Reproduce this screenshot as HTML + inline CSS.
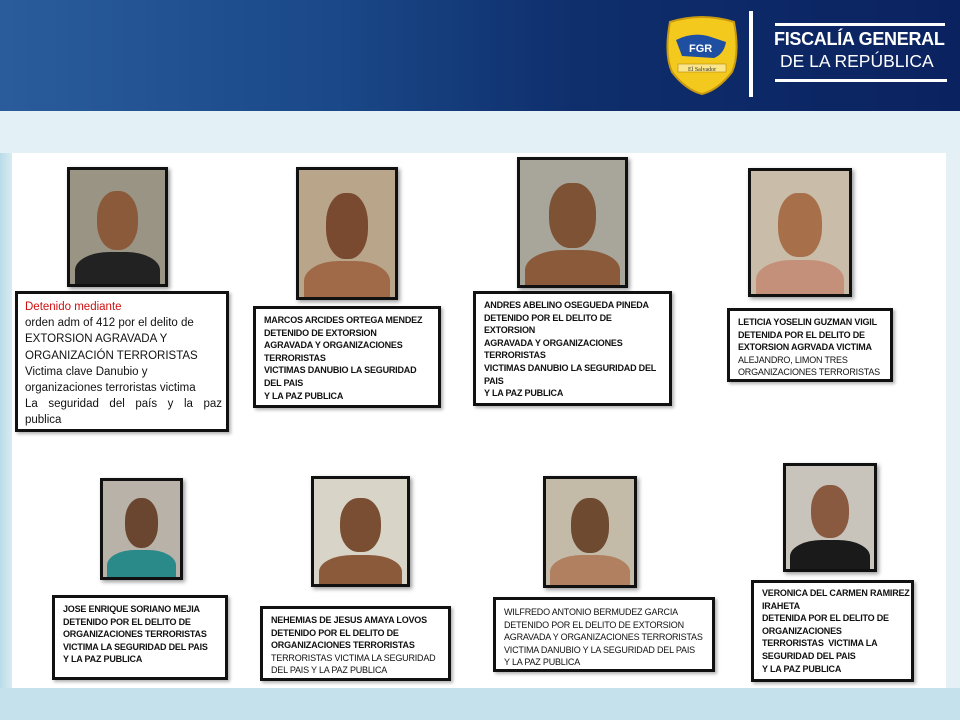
<!DOCTYPE html>
<html><head><meta charset="utf-8"><style>
*{margin:0;padding:0;box-sizing:border-box}
body{width:960px;height:720px;position:relative;overflow:hidden;background:#e4f0f5;font-family:"Liberation Sans",sans-serif}
.hdr{position:absolute;left:0;top:0;width:960px;height:111px;background:linear-gradient(90deg,#2a5c9c 0%,#1a4888 35%,#0f2e6c 60%,#0b2260 100%)}
.band{position:absolute;left:0;top:111px;width:960px;height:42px;background:#e3f0f5}
.left{position:absolute;left:0;top:153px;width:12px;height:540px;background:linear-gradient(90deg,#b9dce8,#d8ebf2)}
.panel{position:absolute;left:12px;top:153px;width:934px;height:535px;background:#fff}
.bot{position:absolute;left:0;top:688px;width:960px;height:32px;background:#c5e2ec}
.ph{position:absolute;border:3px solid #111;box-shadow:2px 2px 4px rgba(0,0,0,.4);overflow:hidden}
.ph .face{position:absolute;left:28%;top:18%;width:44%;height:52%;border-radius:45%;background:#8a5a3a}
.ph .body{position:absolute;left:5%;top:72%;width:90%;height:40%;border-radius:40% 40% 0 0;background:#9a6a48}
.tb{position:absolute;border:3px solid #111;background:#fff;box-shadow:2px 2px 3px rgba(0,0,0,.3);font-size:9px;font-weight:bold;line-height:12.6px;padding:5px 8px;color:#111;white-space:nowrap;letter-spacing:-0.2px}
.tb.n{font-weight:normal}
</style></head><body>
<div class="hdr"></div>
<svg style="position:absolute;left:662px;top:14px" width="80" height="82" viewBox="0 0 80 82">
<path d="M8 8 Q40 -2 72 8 Q78 40 70 58 Q56 76 40 80 Q24 76 10 58 Q2 40 8 8Z" fill="#f3c91e" stroke="#c99a10" stroke-width="2"/>
<path d="M14 26 Q30 18 46 22 L64 28 Q62 40 52 44 L20 42 Z" fill="#1f4fa0"/>
<text x="27" y="38" font-family="Liberation Sans" font-weight="bold" font-size="11" fill="#fff">FGR</text>
<rect x="16" y="50" width="48" height="8" fill="#fbe58a" stroke="#b58a10" stroke-width=".6"/>
<text x="26" y="57" font-family="Liberation Serif" font-size="6" fill="#333">El Salvador</text>
</svg>
<div style="position:absolute;left:749px;top:11px;width:4px;height:86px;background:#fff"></div>
<div style="position:absolute;left:775px;top:23px;width:170px;height:3px;background:#fff"></div>
<div style="position:absolute;left:775px;top:79px;width:172px;height:3px;background:#fff"></div>
<div style="position:absolute;left:774px;top:29px;color:#fff;font-weight:bold;font-size:18px;letter-spacing:-0.3px">FISCALÍA GENERAL</div>
<div style="position:absolute;left:780px;top:51px;color:#fff;font-size:17.5px">DE LA REPÚBLICA</div>
<div class="band"></div><div class="left"></div><div class="panel"></div><div class="bot"></div>

<div class="ph" style="left:67px;top:167px;width:101px;height:120px;background:#9a9484"><div class="face"></div><div class="body" style="background:#222"></div></div>
<div class="ph" style="left:296px;top:167px;width:102px;height:133px;background:#b9a58a"><div class="face" style="background:#7a4a30"></div><div class="body" style="background:#a06a48"></div></div>
<div class="ph" style="left:517px;top:157px;width:111px;height:131px;background:#a8a69a"><div class="face" style="background:#7e5234"></div><div class="body" style="background:#8a5a3a"></div></div>
<div class="ph" style="left:748px;top:168px;width:104px;height:129px;background:#c9bca8"><div class="face" style="background:#a8704a"></div><div class="body" style="background:#c4907a"></div></div>
<div class="ph" style="left:100px;top:478px;width:83px;height:102px;background:#b8b2a8"><div class="face" style="background:#6a4630"></div><div class="body" style="background:#2a8a8a"></div></div>
<div class="ph" style="left:311px;top:476px;width:99px;height:111px;background:#d8d4c8"><div class="face" style="background:#7a4e32"></div><div class="body" style="background:#8a5a3a"></div></div>
<div class="ph" style="left:543px;top:476px;width:94px;height:112px;background:#c4baa8"><div class="face" style="background:#6e4a30"></div><div class="body" style="background:#b08060"></div></div>
<div class="ph" style="left:783px;top:463px;width:94px;height:109px;background:#c8c4bc"><div class="face" style="background:#8a5a40"></div><div class="body" style="background:#1a1a1a"></div></div>

<div class="tb n" style="left:15px;top:291px;width:214px;height:141px;font-size:11.5px;line-height:16.2px;padding:5px 7px;letter-spacing:0">
<span style="color:#d01010">Detenido mediante</span><br>orden adm of 412 por el delito de<br>EXTORSION AGRAVADA Y<br>ORGANIZACIÓN TERRORISTAS<br>Victima clave Danubio y<br>organizaciones terroristas victima<br><span style="display:inline-block;width:197px;text-align:justify;text-align-last:justify">La seguridad del país y la paz</span><br>publica</div>

<div class="tb" style="left:253px;top:306px;width:188px;height:102px">MARCOS ARCIDES ORTEGA MENDEZ<br>DETENIDO DE EXTORSION<br>AGRAVADA Y ORGANIZACIONES<br>TERRORISTAS<br>VICTIMAS DANUBIO LA SEGURIDAD<br>DEL PAIS<br>Y LA PAZ PUBLICA</div>

<div class="tb" style="left:473px;top:291px;width:199px;height:115px">ANDRES ABELINO OSEGUEDA PINEDA<br>DETENIDO POR EL DELITO DE<br>EXTORSION<br>AGRAVADA Y ORGANIZACIONES<br>TERRORISTAS<br>VICTIMAS DANUBIO LA SEGURIDAD DEL<br>PAIS<br>Y LA PAZ PUBLICA</div>

<div class="tb" style="left:727px;top:308px;width:166px;height:74px">LETICIA YOSELIN GUZMAN VIGIL<br>DETENIDA POR EL DELITO DE<br>EXTORSION AGRVADA VICTIMA<br><span style="font-weight:normal">ALEJANDRO, LIMON TRES<br>ORGANIZACIONES TERRORISTAS</span></div>

<div class="tb" style="left:52px;top:595px;width:176px;height:85px">JOSE ENRIQUE SORIANO MEJIA<br>DETENIDO POR EL DELITO DE<br>ORGANIZACIONES TERRORISTAS<br>VICTIMA LA SEGURIDAD DEL PAIS<br>Y LA PAZ PUBLICA</div>

<div class="tb" style="left:260px;top:606px;width:191px;height:75px">NEHEMIAS DE JESUS AMAYA LOVOS<br>DETENIDO POR EL DELITO DE<br>ORGANIZACIONES TERRORISTAS<br><span style="font-weight:normal">TERRORISTAS VICTIMA LA SEGURIDAD<br>DEL PAIS Y LA PAZ PUBLICA</span></div>

<div class="tb n" style="left:493px;top:597px;width:222px;height:75px;padding-top:6px">WILFREDO ANTONIO BERMUDEZ GARCIA<br>DETENIDO POR EL DELITO DE EXTORSION<br>AGRAVADA Y ORGANIZACIONES TERRORISTAS<br>VICTIMA DANUBIO Y LA SEGURIDAD DEL PAIS<br>Y LA PAZ PUBLICA</div>

<div class="tb" style="left:751px;top:580px;width:163px;height:102px;padding-top:4px">VERONICA DEL CARMEN RAMIREZ<br>IRAHETA<br>DETENIDA POR EL DELITO DE<br>ORGANIZACIONES<br>TERRORISTAS&nbsp; VICTIMA LA<br>SEGURIDAD DEL PAIS<br>Y LA PAZ PUBLICA</div>
</body></html>
